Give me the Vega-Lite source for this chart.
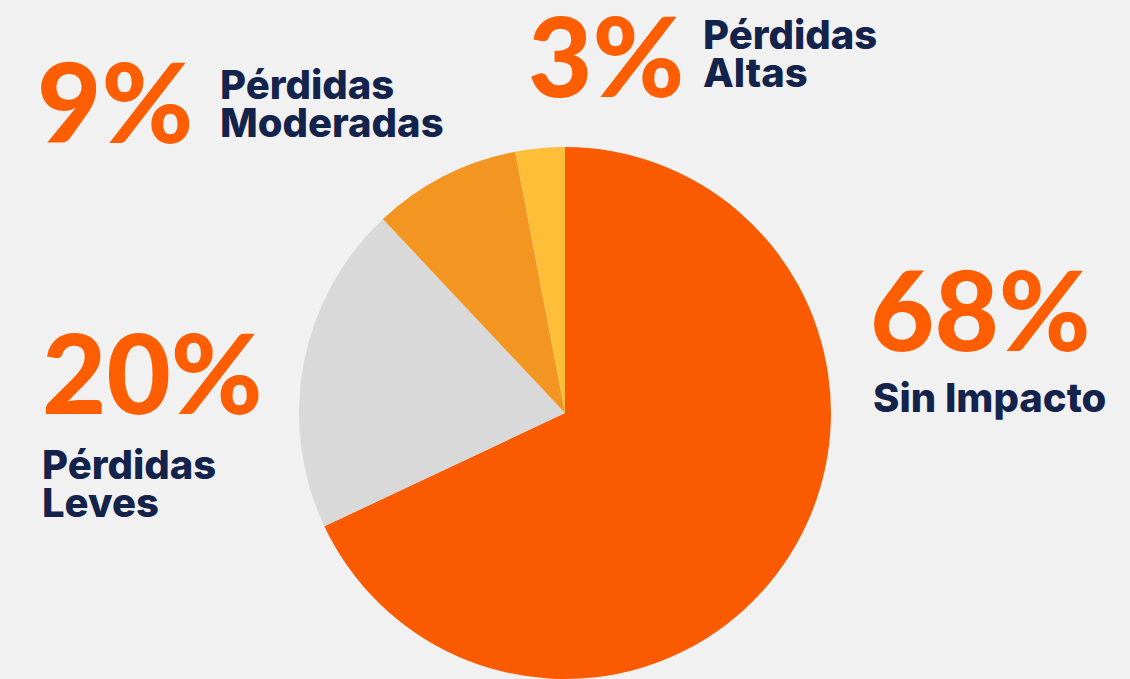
{
  "$schema": "https://vega.github.io/schema/vega-lite/v6.json",
  "width": 1130,
  "height": 826,
  "autosize": {"type": "none"},
  "padding": 0,
  "background": "#F1F1F1",
  "config": {"view": {"stroke": null}},
  "data": {
    "values": [
      {"cat": "Sin Impacto", "value": 0.68, "label": "Sin Impacto", "i": 1},
      {"cat": "Pérdidas Leves", "value": 0.20, "label": "Pérdidas\nLeves", "i": 2},
      {"cat": "Pérdidas Moderadas", "value": 0.09, "label": "Pérdidas\nModeradas", "i": 3},
      {"cat": "Pérdidas Altas", "value": 0.03, "label": "Pérdidas\nAltas", "i": 4}
    ]
  },
  "encoding": {
    "theta": {"field": "value", "type": "quantitative", "stack": true},
    "order": {"field": "i", "type": "quantitative"}
  },
  "layer": [
    {
      "mark": {"type": "arc", "outerRadius": 266},
      "encoding": {
        "color": {
          "field": "cat",
          "type": "nominal",
          "legend": null,
          "scale": {
            "domain": ["Sin Impacto", "Pérdidas Leves", "Pérdidas Moderadas", "Pérdidas Altas"],
            "range": ["#FA5B00", "#D9D9D9", "#F39621", "#FEBE38"]
          }
        }
      }
    },
    {
      "mark": {
        "type": "text",
        "radius": 0,
        "align": "left",
        "baseline": "alphabetic",
        "font": "Lato",
        "fontWeight": 900,
        "fontSize": 111,
        "color": "#FF5E00",
        "dx": {"expr": "datum.i == 1 ? 305 : datum.i == 2 ? -523 : datum.i == 3 ? -528 : -37"},
        "dy": {"expr": "datum.i == 1 ? -62 : datum.i == 2 ? 1 : datum.i == 3 ? -270 : -316"}
      },
      "encoding": {
        "text": {"field": "value", "type": "quantitative", "format": ".0%"}
      }
    },
    {
      "mark": {
        "type": "text",
        "radius": 0,
        "align": "left",
        "baseline": "alphabetic",
        "font": "Inter",
        "fontWeight": 800,
        "fontSize": 40,
        "lineHeight": 38,
        "lineBreak": "\n",
        "color": "#13234B",
        "dx": {"expr": "datum.i == 1 ? 308 : datum.i == 2 ? -523 : datum.i == 3 ? -345 : 138"},
        "dy": {"expr": "datum.i == 1 ? -1 : datum.i == 2 ? 66 : datum.i == 3 ? -314 : -364"}
      },
      "encoding": {
        "text": {"field": "label", "type": "nominal"}
      }
    }
  ]
}
